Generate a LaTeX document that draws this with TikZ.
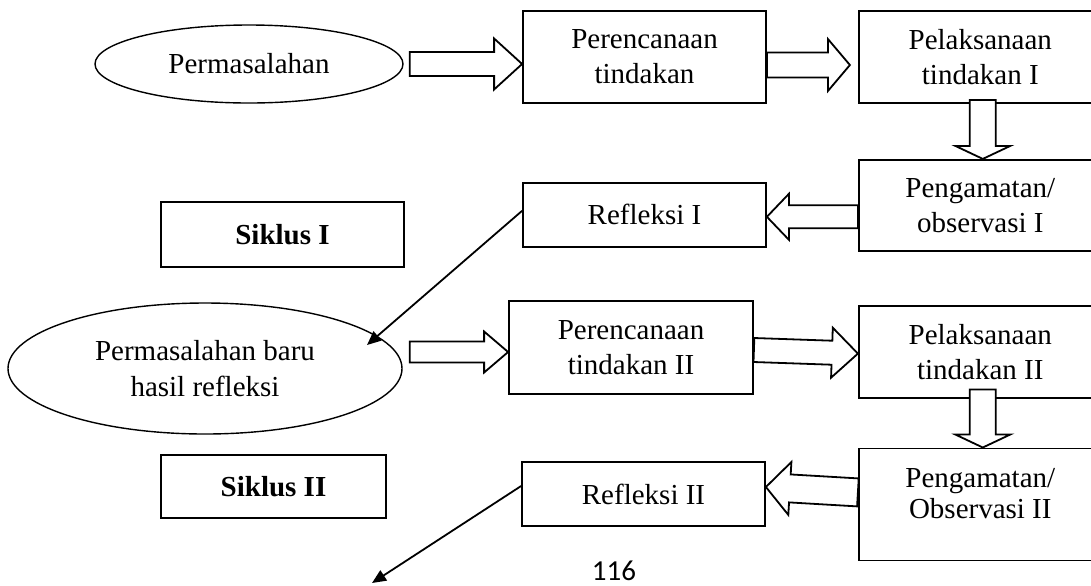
\documentclass[tikz,border=0pt]{standalone}
\usepackage{fontspec}
\setmainfont{Liberation Serif}
\newfontfamily\pagefont{Carlito}
\usetikzlibrary{arrows.meta,positioning,calc,shapes.geometric}

% hollow block arrow: from, to, body half width, head half width, head length
\newcommand{\blockarrow}[5]{%
  \coordinate (ba-a) at #1;
  \coordinate (ba-b) at #2;
  \coordinate (ba-h) at ($(ba-b)!#5!(ba-a)$);
  \draw[blk] ($(ba-a)!#3!90:(ba-b)$) -- ($(ba-h)!#3!90:(ba-b)$) -- ($(ba-h)!#4!90:(ba-b)$)
    -- (ba-b) -- ($(ba-h)!#4!-90:(ba-b)$) -- ($(ba-h)!#3!-90:(ba-b)$) -- ($(ba-a)!#3!-90:(ba-b)$) -- cycle;}

\begin{document}
\begin{tikzpicture}[x=0.5pt, y=-0.5pt, >={Triangle[length=7pt,width=6pt]},
  box/.style={draw, line width=0.9pt, fill=white, align=center, inner sep=0pt,
    minimum width=121.5pt, font=\fontsize{14.5}{17.5}\selectfont},
  oval/.style={draw, ellipse, line width=0.7pt, align=center, inner sep=0pt,
    font=\fontsize{14.5}{18}\selectfont},
  blk/.style={line width=0.9pt, fill=white, line join=miter},
  ln/.style={->, line width=0.9pt}]
\useasboundingbox (0,0) rectangle (1091,585);

% siklus I
\node[oval, minimum width=154pt, minimum height=39pt] (e1) at (249,64) {Permasalahan};
\node[box, minimum height=46pt] (p1) at (644.5,57) {Perencanaan\\tindakan};
\node[box, minimum height=46pt, right=45.5pt of p1] (l1) {Pelaksanaan\\tindakan I};
\node[box, minimum height=45.5pt, below=27.5pt of l1] (o1) {Pengamatan/\\observasi I};
\node[box, minimum height=32pt, below=39pt of p1] (r1) {Refleksi I};
\node[box, minimum height=32.5pt] (s1) at (282.5,234.5) {\textbf{Siklus I}};

% siklus II
\node[oval, minimum width=197pt, minimum height=65.5pt] (e2) at (205,368.5) {Permasalahan baru\\hasil refleksi};
\node[box, minimum width=122pt, minimum height=46.5pt] (p2) at (631,347.5) {Perencanaan\\tindakan II};
\node[box, minimum height=46pt, below=26.5pt of o1] (l2) {Pelaksanaan\\tindakan II};
\node[box, minimum height=56pt, below=24.5pt of l2] (o2) {};
\node[align=center, inner sep=0pt, font=\fontsize{14.5}{15.5}\selectfont] (o2t) at ([yshift=5.5pt]o2.center) {Pengamatan/\\Observasi II};
\node[box, minimum height=32pt] (r2) at (643.5,494) {Refleksi II};
\node[box, minimum width=112.5pt, minimum height=31.5pt] (s2) at (273.5,486.5) {\textbf{Siklus II}};

\node[font=\pagefont\fontsize{14.5}{17}\selectfont, anchor=base, inner sep=0pt] (pg) at (614,580) {116};

% block arrows
\blockarrow{([xshift=3pt]e1.east)}{(p1.west |- e1.east)}{6pt}{12.75pt}{14pt}
\blockarrow{([yshift=-4pt]p1.east)}{([shift={(-4pt,-4pt)}]l1.west)}{6.25pt}{13pt}{11pt}
\blockarrow{([shift={(1.25pt,2pt)}]l1.south)}{([xshift=1.25pt]o1.north)}{6.5pt}{13.75pt}{6.5pt}
\blockarrow{([yshift=-5.75pt]o1.west)}{([yshift=-1pt]r1.east)}{5.75pt}{11.5pt}{11pt}
\blockarrow{([shift={(3.5pt,8.25pt)}]e2.east)}{([yshift=-2.25pt]p2.west)}{5.25pt}{10.25pt}{12pt}
\blockarrow{([yshift=-1.25pt]p2.east)}{([yshift=-1pt]l2.west)}{6pt}{12.5pt}{13pt}
\blockarrow{([shift={(1.25pt,4.5pt)}]l2.south)}{([xshift=1.25pt]o2.north)}{6.5pt}{13.75pt}{6.5pt}
\blockarrow{([yshift=6pt]o2.west)}{([yshift=3.5pt]r2.east)}{7pt}{13.25pt}{12pt}

% back to a new problem
\coordinate (t1) at ([shift={(81pt,11.75pt)}]e2.center);
\coordinate (t2) at (372,583);
\draw[ln] ([yshift=2pt]r1.west) -- (t1);
\draw[ln] ([yshift=4pt]r2.west) -- (t2);
\end{tikzpicture}
\end{document}
